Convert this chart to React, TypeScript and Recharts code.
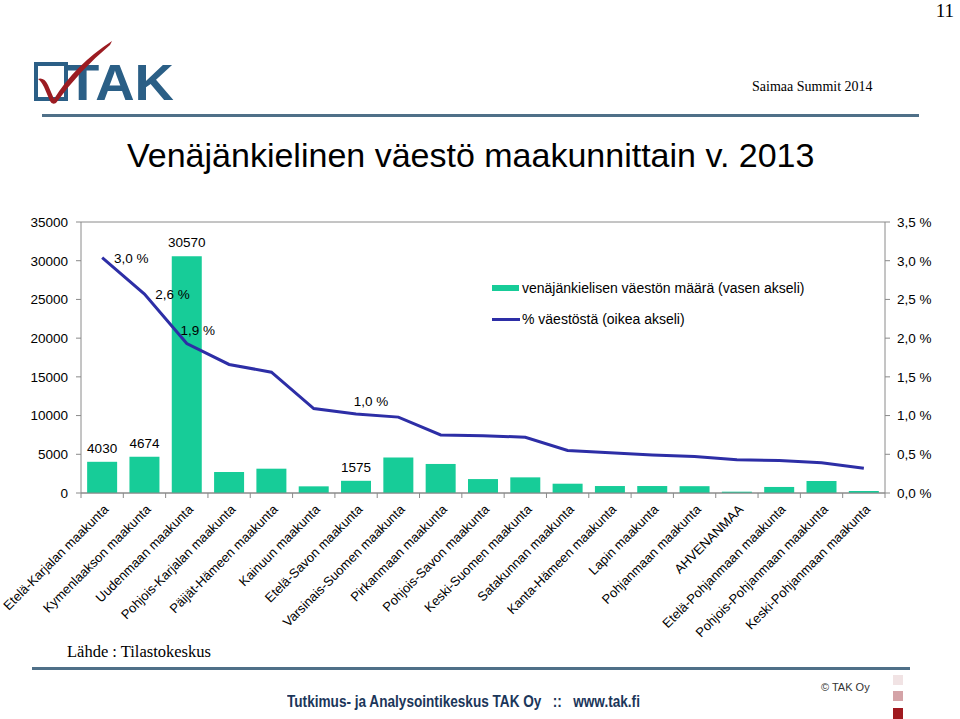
import React from "react";
import {
  ComposedChart,
  Bar,
  Line,
  XAxis,
  YAxis,
  CartesianGrid,
  LabelList,
} from "recharts";

const regions = [
  "Etelä-Karjalan maakunta",
  "Kymenlaakson maakunta",
  "Uudenmaan maakunta",
  "Pohjois-Karjalan maakunta",
  "Päijät-Hämeen maakunta",
  "Kainuun maakunta",
  "Etelä-Savon maakunta",
  "Varsinais-Suomen maakunta",
  "Pirkanmaan maakunta",
  "Pohjois-Savon maakunta",
  "Keski-Suomen maakunta",
  "Satakunnan maakunta",
  "Kanta-Hämeen maakunta",
  "Lapin maakunta",
  "Pohjanmaan maakunta",
  "AHVENANMAA",
  "Etelä-Pohjanmaan maakunta",
  "Pohjois-Pohjanmaan maakunta",
  "Keski-Pohjanmaan maakunta",
];

const russianSpeakers = [
  4030, 4674, 30570, 2710, 3140, 860, 1575, 4600, 3750, 1800, 2020, 1200, 900,
  900, 880, 170, 780, 1550, 260,
];

const shareOfPopulation = [
  3.04, 2.57, 1.93, 1.66, 1.56, 1.09, 1.02, 0.98, 0.75, 0.74, 0.72, 0.55, 0.52,
  0.49, 0.47, 0.43, 0.42, 0.39, 0.32,
];

const labeledIdx = [0, 1, 2, 6];

const leftTicks = [0, 5000, 10000, 15000, 20000, 25000, 30000, 35000];
const rightTicks = [0, 0.5, 1, 1.5, 2, 2.5, 3, 3.5];

const data = regions.map((name, i) => ({
  name,
  count: russianSpeakers[i],
  pct: shareOfPopulation[i],
  countLabel: labeledIdx.includes(i) ? russianSpeakers[i] : null,
  pctLabel: labeledIdx.includes(i) ? shareOfPopulation[i] : null,
}));

const fmtPct = (v: number) => v.toFixed(1).replace(".", ",") + " %";

const FONT = "'Liberation Sans', Arial, sans-serif";
const SERIF = "'Liberation Serif', 'Times New Roman', serif";
const BAR = "#17cc98";
const LINE = "#2d2ea6";
const AXIS = "#8a8a8a";

const PLOT_W = 804;
const HALF_STEP = PLOT_W / regions.length / 2;

// per-index label offsets for the % labels (style only)
const pctLabelOffsets: Record<number, [number, number]> = {
  0: [29, 1],
  1: [28, 0],
  2: [11, -13],
  6: [15, -13],
};

const XTick = (props: any) => {
  const { x, y, payload, index } = props;
  return (
    <g transform={`translate(${x},${y})`}>
      <line x1={-HALF_STEP} x2={-HALF_STEP} y1={0} y2={5} stroke={AXIS} />
      {index === regions.length - 1 && (
        <line x1={HALF_STEP} x2={HALF_STEP} y1={0} y2={5} stroke={AXIS} />
      )}
      <text
        x={0}
        y={0}
        transform="translate(4,14) rotate(-45)"
        textAnchor="end"
        fontSize={13}
        fontFamily={FONT}
        fill="#000"
        dy="0.35em"
      >
        {payload.value}
      </text>
    </g>
  );
};

const BarLabel = (props: any) => {
  const { x, y, width, value } = props;
  if (value == null) return null;
  return (
    <text
      x={Number(x) + Number(width) / 2}
      y={Number(y) - 9}
      textAnchor="middle"
      fontSize={13.5}
      fontFamily={FONT}
      fill="#000"
    >
      {value}
    </text>
  );
};

const PctLabel = (props: any) => {
  const { x, y, value, index } = props;
  if (value == null) return null;
  const off = pctLabelOffsets[index] || [15, -12];
  return (
    <text
      x={Number(x) + off[0]}
      y={Number(y) + off[1]}
      textAnchor="middle"
      dominantBaseline="central"
      fontSize={13.5}
      fontFamily={FONT}
      fill="#000"
    >
      {fmtPct(Number(value))}
    </text>
  );
};

const Logo = () => (
  <svg
    width={150}
    height={75}
    style={{ position: "absolute", left: 30, top: 35 }}
    viewBox="0 0 150 75"
  >
    <rect x={6} y={29} width={30} height={35} fill="none" stroke="#2b5f86" strokeWidth={4} />
    <text
      x={36}
      y={65}
      fontFamily="'Liberation Sans', Arial, sans-serif"
      fontWeight={900}
      fontSize={50}
      fill="#2b5f86"
      textLength={108}
      lengthAdjust="spacingAndGlyphs"
    >
      TAK
    </text>
    <path
      d="M8 44 Q14 42 18 50 L24 64 Q45 30 82 6 L80 10 Q50 35 26 68 Q22 70 20 66 L14 52 Q11 46 8 44 Z"
      fill="#9c1c22"
    />
  </svg>
);

export default function App() {
  return (
    <div
      style={{
        position: "absolute",
        left: 0,
        top: 0,
        width: 960,
        height: 719,
        background: "#fff",
        overflow: "hidden",
        fontFamily: FONT,
      }}
    >
      <div
        style={{
          position: "absolute",
          right: 6,
          top: 0,
          fontFamily: SERIF,
          fontSize: 19,
          color: "#000",
        }}
      >
        11
      </div>
      <Logo />
      <div
        style={{
          position: "absolute",
          left: 752,
          top: 79,
          fontFamily: SERIF,
          fontSize: 14,
          color: "#000",
        }}
      >
        Saimaa Summit 2014
      </div>
      <div
        style={{
          position: "absolute",
          left: 42,
          top: 114,
          width: 877,
          height: 3,
          background: "#4f7088",
        }}
      />
      <div
        style={{
          position: "absolute",
          left: 127,
          top: 136,
          fontFamily: FONT,
          fontSize: 34,
          color: "#000",
          whiteSpace: "nowrap",
        }}
      >
        Venäjänkielinen väestö maakunnittain v. 2013
      </div>

      <div style={{ position: "absolute", left: 0, top: 0 }}>
        <ComposedChart
          width={960}
          height={719}
          data={data}
          margin={{ top: 222, right: 0, bottom: 96, left: 0 }}
          barCategoryGap="14.5%"
          style={{ overflow: "visible" }}
        >
          <CartesianGrid vertical={false} stroke={AXIS} strokeWidth={1} />
          <XAxis
            dataKey="name"
            interval={0}
            height={130}
            tickLine={false}
            tickSize={0}
            tickMargin={0}
            axisLine={{ stroke: AXIS }}
            tick={<XTick />}
          />
          <YAxis
            yAxisId="left"
            orientation="left"
            width={81}
            domain={[0, 35000]}
            ticks={leftTicks}
            interval={0}
            tickSize={5}
            tickMargin={8}
            axisLine={{ stroke: AXIS }}
            tickLine={{ stroke: AXIS }}
            tick={{ fontSize: 13.5, fontFamily: FONT, fill: "#000" }}
          />
          <YAxis
            yAxisId="right"
            orientation="right"
            width={75}
            domain={[0, 3.5]}
            ticks={rightTicks}
            interval={0}
            tickSize={5}
            tickMargin={7}
            tickFormatter={fmtPct}
            axisLine={{ stroke: AXIS }}
            tickLine={{ stroke: AXIS }}
            tick={{ fontSize: 13.5, fontFamily: FONT, fill: "#000" }}
          />
          <Bar
            yAxisId="left"
            dataKey="count"
            fill={BAR}
            isAnimationActive={false}
          >
            <LabelList dataKey="countLabel" content={<BarLabel />} />
          </Bar>
          <Line
            yAxisId="right"
            dataKey="pct"
            type="linear"
            stroke={LINE}
            strokeWidth={3}
            dot={false}
            activeDot={false}
            isAnimationActive={false}
          >
            <LabelList dataKey="pctLabel" content={<PctLabel />} />
          </Line>
        </ComposedChart>
      </div>

      {/* legend */}
      <div style={{ position: "absolute", left: 492, top: 278 }}>
        <div style={{ display: "flex", alignItems: "center", height: 20 }}>
          <div style={{ width: 27, height: 6, background: BAR, marginRight: 3 }} />
          <span style={{ fontSize: 14, fontFamily: FONT, color: "#000" }}>
            venäjänkielisen väestön määrä (vasen akseli)
          </span>
        </div>
        <div style={{ display: "flex", alignItems: "center", height: 20, marginTop: 11 }}>
          <div style={{ width: 28, height: 3, background: LINE, marginRight: 2 }} />
          <span style={{ fontSize: 14, fontFamily: FONT, color: "#000" }}>
            % väestöstä (oikea akseli)
          </span>
        </div>
      </div>

      <div
        style={{
          position: "absolute",
          left: 67,
          top: 642,
          fontFamily: SERIF,
          fontSize: 16.5,
          color: "#000",
        }}
      >
        Lähde : Tilastokeskus
      </div>
      <div
        style={{
          position: "absolute",
          left: 32,
          top: 667,
          width: 878,
          height: 3,
          background: "#4f7088",
        }}
      />
      <div
        style={{
          position: "absolute",
          left: 287,
          top: 693,
          fontFamily: FONT,
          fontSize: 16,
          fontWeight: "bold",
          color: "#1b365a",
          whiteSpace: "pre",
          transform: "scaleX(0.85)",
          transformOrigin: "left",
        }}
      >
        {"Tutkimus- ja Analysointikeskus TAK Oy   ::   www.tak.fi"}
      </div>
      <div
        style={{
          position: "absolute",
          left: 821,
          top: 681,
          fontFamily: FONT,
          fontSize: 11,
          color: "#333",
        }}
      >
        © TAK Oy
      </div>
      <div style={{ position: "absolute", left: 893, top: 675, width: 10, height: 10, background: "#f1e3e4" }} />
      <div style={{ position: "absolute", left: 893, top: 691, width: 10, height: 10, background: "#d4a3a7" }} />
      <div style={{ position: "absolute", left: 893, top: 708, width: 10, height: 11, background: "#a0191f" }} />
    </div>
  );
}
